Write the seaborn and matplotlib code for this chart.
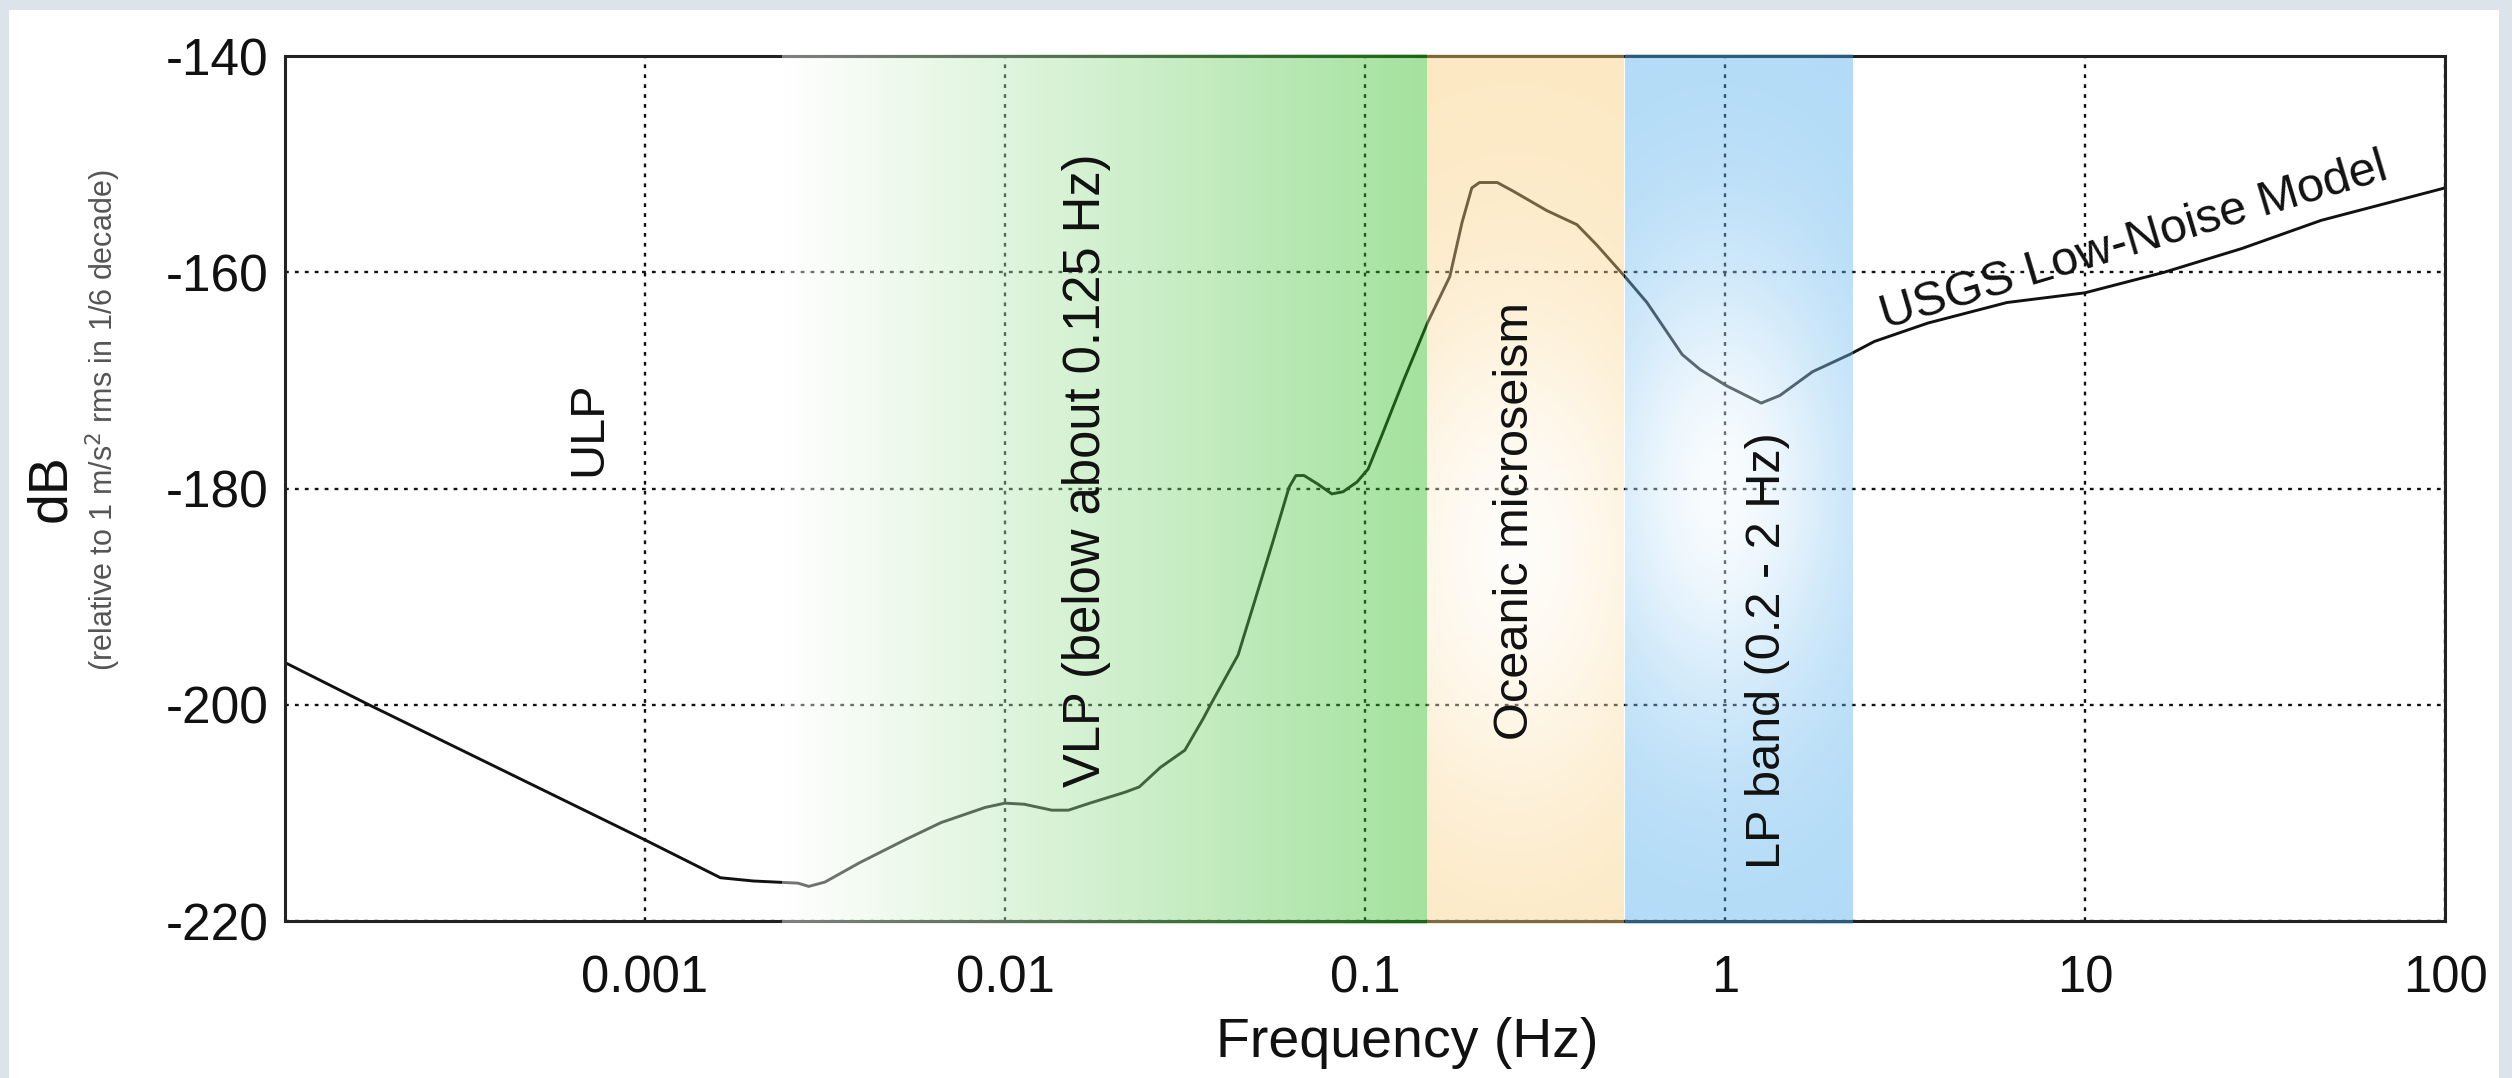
import numpy as np
import pandas as pd
import matplotlib
matplotlib.use("Agg")
import matplotlib.pyplot as plt
import seaborn as sns
from matplotlib.patches import Rectangle

# USGS low-noise model, frequency (Hz) vs. level (dB rel. 1 m/s^2 rms in 1/6 decade)
freq_hz = [1.0e-4, 1.71e-4, 1.0e-3, 1.62e-3, 2.0e-3, 2.66e-3, 2.85e-3, 3.16e-3,
           3.95e-3, 5.27e-3, 6.64e-3, 8.8e-3, 0.0100, 0.0113, 0.0135, 0.0150,
           0.0172, 0.0215, 0.0236, 0.0270, 0.0316, 0.0355, 0.0378, 0.0444,
           0.0494, 0.0555, 0.0615, 0.0643, 0.0677, 0.0740, 0.0809, 0.0869,
           0.0950, 0.102, 0.111, 0.128, 0.149, 0.172, 0.186, 0.198, 0.208,
           0.233, 0.258, 0.320, 0.388, 0.441, 0.527, 0.607, 0.760, 0.853,
           1.01, 1.26, 1.42, 1.75, 2.22, 2.6, 3.66, 6.07, 10.0, 16.6, 27.3,
           45.3, 100.0]
noise_db = [-196.1, -200.0, -212.5, -216.0, -216.3, -216.5, -216.8, -216.4,
            -214.6, -212.5, -210.9, -209.5, -209.1, -209.2, -209.75, -209.75,
            -209.1, -208.1, -207.6, -205.8, -204.2, -201.3, -199.6, -195.4,
            -190.4, -184.9, -179.9, -178.8, -178.8, -179.6, -180.5, -180.3,
            -179.4, -178.2, -175.2, -170.0, -164.7, -160.4, -155.4, -152.2, -151.7,
            -151.7, -152.5, -154.3, -155.6, -157.5, -160.4, -162.8, -167.6, -169.0,
            -170.5, -172.1, -171.4, -169.2, -167.6, -166.4, -164.7, -162.8, -161.9,
            -160.0, -157.8, -155.2, -152.2]

# Frequency bands (Hz)
vlp_band = (0.0024, 0.1486)
micro_band = (0.1486, 0.527)
lp_band = (0.527, 2.27)

x_ticks = [0.001, 0.01, 0.1, 1, 10, 100]
x_tick_labels = ["0.001", "0.01", "0.1", "1", "10", "100"]
y_ticks = [-220, -200, -180, -160, -140]
y_tick_labels = ["-220", "-200", "-180", "-160", "-140"]

band_labels = ["ULP", "VLP (below about 0.125 Hz)", "Oceanic microseism", "LP band (0.2 - 2 Hz)"]
band_label_x = [6.98e-4, 0.0168, 0.262, 1.31]
band_label_y = [-174.5, -178.3, -183.0, -195.0]
band_label_size = [35, 36.5, 35, 35]

sns.set_style("white")
plt.rcParams["font.family"] = ["Liberation Sans", "DejaVu Sans"]

fig = plt.figure(figsize=(25.12, 10.78), dpi=100)
fig.patch.set_facecolor("#dde3eb")
fig.patches.append(Rectangle((0.0036, 0.0), 0.9912, 0.9907, transform=fig.transFigure,
                             facecolor="white", edgecolor="none", zorder=-10))

ax = fig.add_axes([0.11346, 0.14564, 0.85987, 0.80241])
ax.set_facecolor("white")

df = pd.DataFrame({"freq": freq_hz, "db": noise_db})
sns.lineplot(data=df, x="freq", y="db", ax=ax, color="#111111", lw=2.1, zorder=2)

ax.set_xscale("log")
YLO, YHI = -220, -140
ax.set_xlim(1e-4, 100)
ax.set_ylim(YLO, YHI)

# Translucent colour washes laid over curve, grid and frame
A = 0.42
ext_lo, ext_hi = YLO - 0.25, YHI + 0.25


def wash(target):
    return np.clip(255.0 - (255.0 - target) / A, 0, 255) / 255.0


def log_columns(band, n):
    # image columns are evenly spaced in frequency; keep their log10 position
    return np.log10(np.linspace(band[0], band[1], n))


# VLP: white-to-green ramp along log frequency
lf = log_columns(vlp_band, 4000)
t = (lf - lf[0]) / (lf[-1] - lf[0])
green_end = np.array([164.0, 226.0, 158.0])
tgt = 255.0 - t[:, None] * (255.0 - green_end[None, :])
rgba = np.ones((2, lf.size, 4))
rgba[:, :, :3] = wash(tgt)[None, :, :]
rgba[:, :, 3] = A
ax.imshow(rgba, extent=(vlp_band[0], vlp_band[1], ext_lo, ext_hi), origin="lower",
          aspect="auto", interpolation="bilinear", zorder=3, clip_on=False)


def glow_band(band, base, cx, cy, rx, ry, strength):
    lfb = log_columns(band, 1200)
    db = np.linspace(ext_lo, ext_hi, 300)
    LF, DB = np.meshgrid(lfb, db)
    g = strength * np.exp(-(((LF - cx) / rx) ** 2 + ((DB - cy) / ry) ** 2))
    tg = np.array(base)[None, None, :] * (1 - g[..., None]) + 255.0 * g[..., None]
    img = np.ones(LF.shape + (4,))
    img[..., :3] = wash(tg)
    img[..., 3] = A
    ax.imshow(img, extent=(band[0], band[1], ext_lo, ext_hi), origin="lower",
              aspect="auto", interpolation="bilinear", zorder=3, clip_on=False)


glow_band(micro_band, (253.0, 233.0, 195.0), -0.589, -186.0, 0.42, 24.0, 0.9)
glow_band(lp_band, (178.0, 219.0, 247.0), -0.014, -180.0, 0.36, 22.0, 0.92)

ax.set_xlim(1e-4, 100)
ax.set_ylim(YLO, YHI)

# Grid and frame
ax.set_xticks(x_ticks)
ax.set_xticklabels(x_tick_labels)
ax.set_yticks(y_ticks)
ax.set_yticklabels(y_tick_labels)
ax.minorticks_off()
ax.grid(True, which="major", color="#111111", lw=1.7, linestyle=(0, (1.6, 2.6)))
ax.set_axisbelow(True)
ax.tick_params(axis="both", length=0, colors="#111111")
ax.tick_params(axis="x", labelsize=36.5, pad=24)
ax.tick_params(axis="y", labelsize=37, pad=12)
for sp in ax.spines.values():
    sp.set_visible(True)
    sp.set_color("#222222")
    sp.set_linewidth(2.2)

ax.set_xlabel("Frequency (Hz)", fontsize=40, color="#111111")
ax.xaxis.set_label_coords(0.5194, -0.141)
ax.xaxis.label.set_va("center")
ax.set_ylabel("dB", fontsize=40, color="#111111")
ax.yaxis.set_label_coords(-0.1085, 0.5)
ax.yaxis.label.set_va("center")
ax.text(-0.0843, 0.579, "(relative to 1 m/s$^2$ rms in 1/6 decade)", transform=ax.transAxes,
        rotation=90, ha="center", va="center", fontsize=22, color="#555555")

for lab, lx, ly, fs in zip(band_labels, band_label_x, band_label_y, band_label_size):
    ax.text(lx, ly, lab, rotation=90, ha="center", va="center", fontsize=fs,
            color="#111111", zorder=5)

ax.text(13.7, -157.2, "USGS Low-Noise Model", rotation=16.6, ha="center", va="center",
        fontsize=35, color="#111111", zorder=5, rotation_mode="anchor")

fig.savefig("out.png", dpi=100, facecolor=fig.get_facecolor())
